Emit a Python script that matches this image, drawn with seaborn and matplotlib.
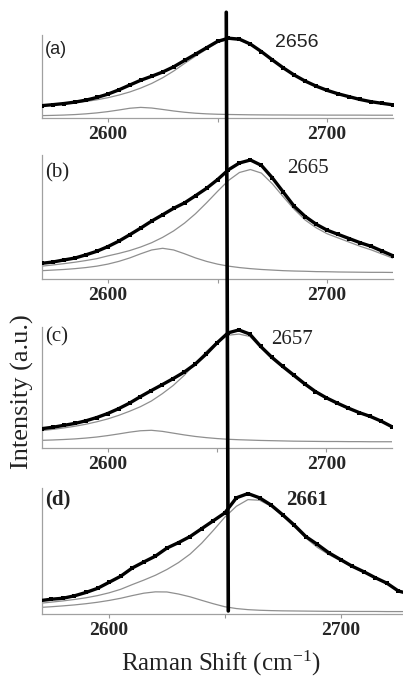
import matplotlib
matplotlib.use("Agg")
import matplotlib.pyplot as plt
import seaborn as sns
import pandas as pd
from matplotlib.lines import Line2D

# ---------------- data ----------------
shift = [2570, 2575, 2580, 2585, 2590, 2595, 2600, 2605, 2610, 2615, 2620,
         2625, 2630, 2635, 2640, 2645, 2650, 2655, 2660, 2665, 2670, 2675,
         2680, 2685, 2690, 2695, 2700, 2705, 2710, 2715, 2720, 2725, 2730]

a_data = [.155, .167, .181, .199, .224, .257, .299, .352, .413, .473, .523,
          .576, .641, .721, .800, .880, .960, 1.00, .988, .926, .832, .728,
          .628, .538, .462, .399, .346, .303, .267, .232, .204, .184, .165]
a_main = [.160, .169, .179, .191, .207, .228, .254, .287, .326, .375, .433,
          .504, .588, .684, .775, .862, .945, .985, .975, .921, .828, .725,
          .625, .536, .460, .397, .345, .302, .266, .231, .204, .184, .165]
a_sub = [.030, .033, .037, .043, .052, .064, .080, .100, .122, .133, .125,
         .107, .088, .072, .060, .052, .047, .044, .042, .040, .039, .038,
         .038, .037, .037, .037, .036, .036, .036, .036, .035, .035, .035]

b_data = [.132, .143, .160, .176, .203, .233, .272, .318, .372, .428, .487,
          .540, .594, .640, .700, .762, .835, .918, .975, 1.00, .955, .850,
          .730, .610, .525, .460, .410, .375, .340, .305, .275, .235, .195]
b_main = [.108, .118, .129, .141, .155, .171, .194, .215, .239, .269, .305,
          .350, .404, .470, .549, .640, .736, .828, .895, .920, .890, .800,
          .690, .585, .495, .430, .380, .345, .310, .275, .245, .210, .175]
b_sub = [.070, .075, .080, .087, .096, .108, .125, .148, .177, .212, .244,
         .258, .244, .212, .177, .148, .125, .108, .096, .087, .080, .075,
         .070, .067, .065, .062, .061, .059, .058, .057, .056, .056, .055]

c_data = [.164, .176, .192, .208, .230, .258, .292, .333, .380, .435, .487,
          .537, .588, .643, .710, .795, .890, .975, 1.00, .965, .860, .770,
          .692, .619, .545, .478, .425, .380, .338, .300, .268, .228, .180]
c_main = [.147, .158, .170, .184, .201, .222, .246, .276, .311, .350, .398,
          .460, .530, .615, .715, .815, .900, .955, .965, .945, .850, .757,
          .680, .605, .535, .470, .418, .374, .333, .296, .264, .225, .177]
c_sub = [.065, .068, .072, .077, .084, .093, .105, .119, .134, .146, .150,
         .141, .126, .111, .098, .088, .080, .074, .070, .067, .064, .062,
         .060, .058, .057, .056, .055, .055, .054, .054, .053, .053, .053]

d_data = [.110, .122, .130, .150, .178, .212, .262, .312, .380, .430, .478,
          .545, .590, .640, .705, .770, .835, .960, .995, .960, .900, .820,
          .735, .640, .575, .505, .450, .395, .350, .300, .255, .190, .165]
d_main = [.088, .098, .108, .120, .134, .152, .175, .204, .243, .280, .320,
          .368, .425, .495, .585, .690, .800, .890, .945, .940, .890, .810,
          .720, .628, .550, .490, .440, .390, .345, .298, .250, .195, .160]
d_sub = [.054, .060, .067, .075, .085, .097, .112, .130, .152, .172, .183,
         .182, .165, .142, .113, .085, .060, .045, .036, .031, .028, .026,
         .025, .024, .023, .022, .022, .021, .021, .021, .020, .020, .020]

panel_labels = ["(a)", "(b)", "(c)", "(d)"]
peak_labels = ["2656", "2665", "2657", "2661"]
tick_values = [2600, 2650, 2700]
tick_labels = ["2600", "", "2700"]
line_position = 2653

# ---------------- styling ----------------
sns.set_style("white")
plt.rcParams["font.family"] = ["Liberation Serif", "DejaVu Serif"]
plt.rcParams["mathtext.fontset"] = "stix"

W, H = 403, 679
fig = plt.figure(figsize=(W / 100, H / 100), dpi=100)


def box(left, right, top, bottom):
    return [left / W, 1 - bottom / H, (right - left) / W, (bottom - top) / H]


panels = [
    dict(rect=box(42, 393, 35, 118), xlim=(2570, 2730), ylim=(0, 1.04),
         data=(a_data, a_main, a_sub), lab_y=0.82, peak_xy=(2686, 0.94),
         lab_font=dict(family="Liberation Sans", fontsize=13),
         peak_font=dict(family="Liberation Sans", fontsize=14)),
    dict(rect=box(42, 393, 155, 279), xlim=(2570, 2730), ylim=(0, 1.042),
         data=(b_data, b_main, b_sub), lab_y=0.86, peak_xy=(2691, 0.93),
         lab_font=dict(fontsize=15), peak_font=dict(fontsize=15)),
    dict(rect=box(42, 392, 327, 448), xlim=(2570, 2730), ylim=(0, 1.025),
         data=(c_data, c_main, c_sub), lab_y=0.915, peak_xy=(2684.4, 0.915),
         lab_font=dict(fontsize=15), peak_font=dict(fontsize=15)),
    dict(rect=box(42, 403, 488, 614), xlim=(2571, 2727), ylim=(0, 1.041),
         data=(d_data, d_main, d_sub), lab_y=0.905, peak_xy=(2685.5, 0.94),
         lab_font=dict(fontsize=15, fontweight="bold"),
         peak_font=dict(fontsize=15, fontweight="bold")),
]

axes = []
for i, p in enumerate(panels):
    ax = fig.add_axes(p["rect"])
    obs, main, sub = p["data"]
    df = pd.DataFrame({"shift": shift, "obs": obs, "main": main, "sub": sub})
    sns.lineplot(data=df, x="shift", y="sub", ax=ax, color="#8f8f8f", lw=0.9,
                 zorder=2)
    sns.lineplot(data=df, x="shift", y="main", ax=ax, color="#8f8f8f", lw=0.9,
                 zorder=2)
    sns.lineplot(data=df, x="shift", y="obs", ax=ax, color="black", lw=2.4,
                 marker="s", markersize=3.0, markeredgewidth=0, zorder=3)
    ax.set_xlim(*p["xlim"])
    ax.set_ylim(*p["ylim"])
    ax.set_xlabel("")
    ax.set_ylabel("")
    ax.set_yticks([])
    ax.set_xticks(tick_values, tick_labels)
    ax.tick_params(axis="x", direction="out", length=3, width=0.8,
                   color="#999999", labelsize=14, pad=3, bottom=True)
    for t in ax.get_xticklabels():
        t.set_fontweight("bold")
    for s in ("top", "right"):
        ax.spines[s].set_visible(False)
    for s in ("left", "bottom"):
        ax.spines[s].set_color("#a0a0a0")
        ax.spines[s].set_linewidth(0.9)
    ax.patch.set_alpha(0)
    ax.text(0.008, p["lab_y"], panel_labels[i], transform=ax.transAxes,
            ha="left", va="center", color="#222222", **p["lab_font"])
    ax.text(p["peak_xy"][0], p["peak_xy"][1], peak_labels[i], ha="center",
            va="center", color="#222222", **p["peak_font"])
    axes.append(ax)

# vertical reference line crossing all panels (data coords -> figure coords)
to_fig = fig.transFigure.inverted()
top_pt = to_fig.transform(axes[0].transData.transform((line_position + 1, 1.325)))
bot_pt = to_fig.transform(axes[3].transData.transform((line_position - 1.5, 0.025)))
fig.add_artist(Line2D([top_pt[0], bot_pt[0]], [top_pt[1], bot_pt[1]],
                      transform=fig.transFigure, color="black", lw=2.6,
                      zorder=10))

fig.text(221 / W, 1 - 663 / H, "Raman Shift (cm$^{\\mathregular{-1}}$)",
         ha="center", va="center", fontsize=18, color="#222222")
fig.text(22 / W, 1 - 392 / H, "Intensity (a.u.)", rotation=90,
         ha="center", va="center", fontsize=19, color="#222222")

fig.savefig("out.png", dpi=100)
